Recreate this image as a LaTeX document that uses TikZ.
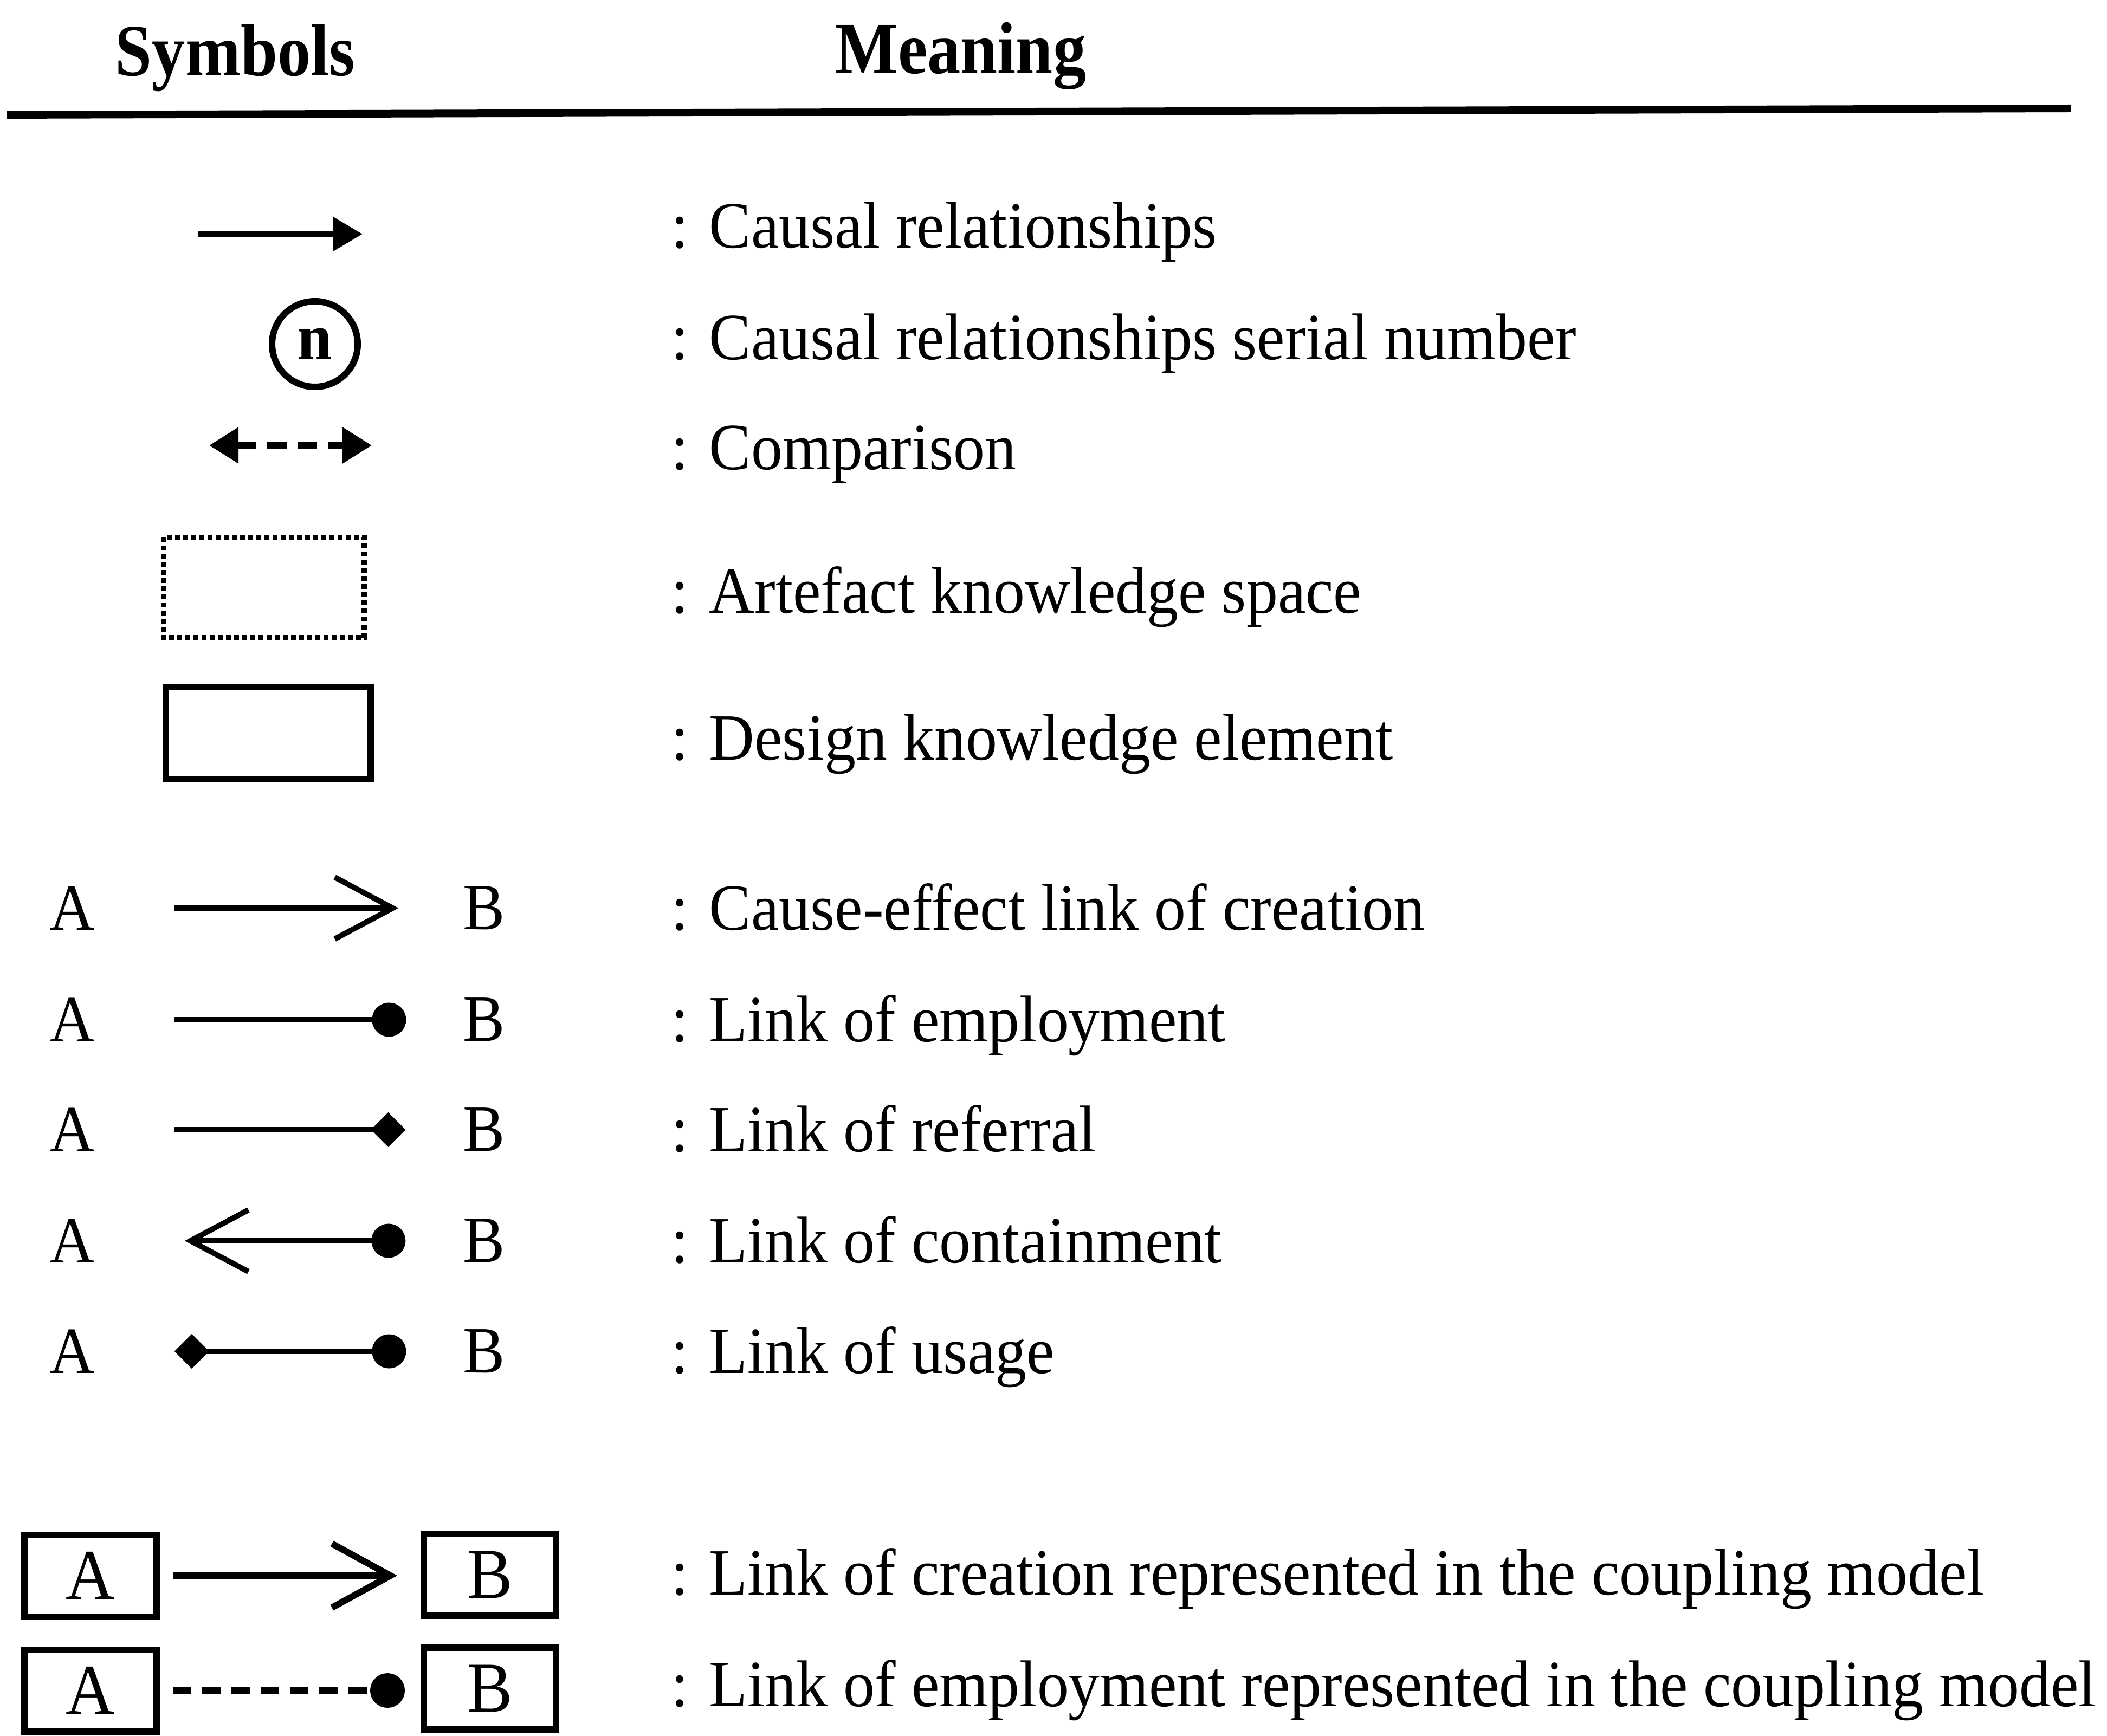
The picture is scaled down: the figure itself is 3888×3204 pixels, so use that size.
\documentclass[tikz,border=0pt]{standalone}
\usepackage{fontspec}
\setmainfont{Liberation Serif}[FakeStretch=0.95]
\newfontfamily\headfont{Liberation Serif}[FakeStretch=0.9]
\usetikzlibrary{arrows.meta}

\tikzset{
  barbtip/.tip={Straight Barb[length=10.7pt, width=11.4pt]},
  dottip/.tip={Circle[length=6.3pt, width=6.3pt]},
  loztip/.tip={Diamond[length=6.4pt, width=6.4pt]}
}

\begin{document}
\begin{tikzpicture}[x=0.1pt,y=-0.1pt,
  txt/.style={inner sep=0pt, outer sep=0pt, anchor=base west, font=\fontsize{12.2}{14}\selectfont},
  head/.style={inner sep=0pt, anchor=base, font=\fontsize{13.6}{16}\selectfont\headfont\bfseries},
  letter/.style={inner sep=0pt, outer sep=0pt, font=\fontsize{12.2}{14}\selectfont},
  boxed/.style={draw, line width=1.2pt, minimum width=24.4pt, minimum height=15.1pt,
    inner sep=0pt, font=\fontsize{13.2}{15}\selectfont},
  link/.style={line width=1pt}
]
% page
\fill[white] (0,0) rectangle (3888,3204);
\useasboundingbox (0,0) rectangle (3888,3204);

% column headings and rule
\node[head] (hsym) at (434,140) {Symbols};
\node[head] (hmean) at (1773,136) {Meaning};
\draw[line width=1.4pt] (13,212) -- (3821,200);

% causal relationship arrow
\draw[line width=1.2pt, -{Triangle[length=5.4pt, width=6pt]}] (365,432) -- (669,432);
% serial number
\node[draw, circle, line width=1.2pt, minimum size=15.8pt, inner sep=0pt,
  font=\fontsize{12.2}{14}\selectfont\bfseries] (serial) at (581,635) {n};
% comparison
\draw[line width=1.2pt, dash pattern=on 3.6pt off 2pt,
  {Triangle[length=5.4pt, width=6.4pt]}-{Triangle[length=5.4pt, width=6.4pt]}] (386,822) -- (686,822);
% artefact knowledge space
\draw[line width=0.95pt, dash pattern=on 0.9pt off 0.6pt] (302,992) rectangle (672,1177);
% design knowledge element
\draw[line width=1.2pt] (306,1268) rectangle (684,1438);

% meaning column
\node[txt] (m1) at (1238,458) {: Causal relationships};
\node[txt] (m2) at (1238,664) {: Causal relationships serial number};
\node[txt] (m3) at (1238,867) {: Comparison};
\node[txt] (m4) at (1238,1132) {: Artefact knowledge space};
\node[txt] (m5) at (1238,1402) {: Design knowledge element};
\node[txt] (m6) at (1238,1716) {: Cause-effect link of creation};
\node[txt] (m7) at (1238,1922) {: Link of employment};
\node[txt] (m8) at (1238,2125) {: Link of referral};
\node[txt] (m9) at (1238,2330) {: Link of containment};
\node[txt] (m10) at (1238,2534) {: Link of usage};
\node[txt] (m11) at (1238,2943) {: Link of creation represented in the coupling model};
\node[txt] (m12) at (1238,3149) {: Link of employment represented in the coupling model};

% link types between A and B
\node[letter] (a6) at (133,1676) {A};  \node[letter] (b6) at (893,1676) {B};
\node[letter] (a7) at (133,1882) {A};  \node[letter] (b7) at (893,1882) {B};
\node[letter] (a8) at (133,2085) {A};  \node[letter] (b8) at (893,2085) {B};
\node[letter] (a9) at (133,2290) {A};  \node[letter] (b9) at (893,2290) {B};
\node[letter] (a10) at (133,2494) {A}; \node[letter] (b10) at (893,2494) {B};

\draw[link, -{barbtip}, shorten <=14.7pt, shorten >=11.9pt] (a6) -- (b6);
\draw[link, -{dottip}, shorten <=14.7pt, shorten >=10.5pt] (a7) -- (b7);
\draw[link, -{loztip}, shorten <=14.7pt, shorten >=10.6pt] (a8) -- (b8);
\draw[link, {barbtip}-{dottip}, shorten <=16.6pt, shorten >=10.6pt] (a9) -- (b9);
\draw[link, {loztip}-{dottip}, shorten <=14.7pt, shorten >=10.5pt] (a10) -- (b10);

% links in the coupling model
\node[boxed] (ca1) at (167,2908) {A};
\node[boxed] (cb1) at (904,2906) {B};
\node[boxed] (ca2) at (167,3120) {A};
\node[boxed] (cb2) at (904,3116) {B};

\draw[line width=1.2pt, -{Straight Barb[length=10.8pt, width=11.8pt]},
  shorten <=2.4pt, shorten >=4.3pt] (ca1.east) -- (ca1.east -| cb1.west);
\draw[line width=1.2pt, dash pattern=on 3.4pt off 2pt, -{Circle[length=6.4pt, width=6.4pt]},
  shorten <=2.4pt, shorten >=2.9pt] (ca2.east) -- (ca2.east -| cb2.west);
\end{tikzpicture}
\end{document}
